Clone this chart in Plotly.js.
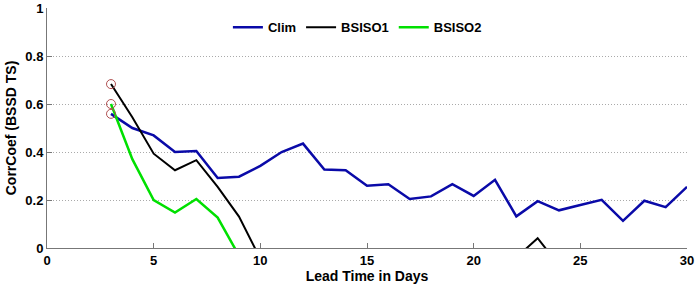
<!DOCTYPE html>
<html>
<head>
<meta charset="utf-8">
<script src="https://cdn.plot.ly/plotly-3.0.1.min.js"></script>
<style>html,body{margin:0;padding:0;background:#fff;}#chart{width:699px;height:289px;}</style>
</head>
<body>
<div id="chart"></div>
<script>
const leadDays = [3,4,5,6,7,8,9,10,11,12,13,14,15,16,17,18,19,20,21,22,23,24,25,26,27,28,29,30];
const clim   = [0.559,0.50,0.469,0.40,0.404,0.292,0.297,0.342,0.40,0.435,0.327,0.324,0.259,0.266,0.204,0.215,0.266,0.217,0.284,0.132,0.195,0.157,0.179,0.201,0.113,0.197,0.170,0.255];
const bsiso1 = [0.683,0.545,0.393,0.324,0.366,0.255,0.131,-0.045,-0.12,-0.18,-0.2,-0.22,-0.2,-0.18,-0.2,-0.17,-0.15,-0.16,-0.12,-0.041,0.041,-0.073,-0.12,-0.15,-0.18,-0.2,-0.2,-0.22];
const bsiso2 = [0.60,0.37,0.20,0.148,0.204,0.127,-0.032,-0.15,-0.2,-0.22,-0.25,-0.24,-0.26,-0.25,-0.27,-0.26,-0.28,-0.27,-0.3,-0.28,-0.29,-0.3,-0.31,-0.3,-0.32,-0.31,-0.33,-0.32];
const seriesNames = ['Clim','BSISO1','BSISO2'];
const xTickVals = [0,5,10,15,20,25,30];
const yTickVals = [0,0.2,0.4,0.6,0.8,1];
const yTickText = ['0','0.2','0.4','0.6','0.8','1'];

const colors = ['#0a0aa8','#000000','#00e000'];
const widths = [2.5,2,2.5];
const all = [clim,bsiso1,bsiso2];
const traces = [];
all.forEach((s,i)=>{
  traces.push({x:leadDays,y:s,type:'scatter',mode:'lines',name:seriesNames[i],
    line:{color:colors[i],width:widths[i]}});
});
all.forEach((s,i)=>{
  traces.push({x:[leadDays[0]],y:[s[0]],type:'scatter',mode:'markers',showlegend:false,
    marker:{symbol:'circle-open',size:9,color:'#b05050',line:{width:1,color:'#b05050'}}});
});

const fam = 'Liberation Sans, Arial, sans-serif';
const layout = {
  width:699,height:289,
  margin:{l:47,r:12,t:8,b:41},
  paper_bgcolor:'#fff',plot_bgcolor:'#fff',
  font:{family:fam,size:13,color:'#000'},
  showlegend:true,
  legend:{orientation:'h',x:0.485,xanchor:'center',y:0.92,yanchor:'middle',
    bgcolor:'rgba(0,0,0,0)',font:{family:fam,size:13,weight:'bold',color:'#000'}},
  xaxis:{range:[0,30],tickvals:xTickVals,ticks:'inside',ticklen:5,tickcolor:'#777',
    showline:true,linecolor:'#777',linewidth:1,showgrid:false,zeroline:false,
    tickfont:{family:fam,size:13,weight:'bold',color:'#000'},
    title:{text:'Lead Time in Days',standoff:3,font:{family:fam,size:14,weight:'bold',color:'#000'}}},
  yaxis:{range:[0,1],tickvals:yTickVals,ticktext:yTickText,ticks:'inside',ticklen:5,tickcolor:'#777',
    showline:true,linecolor:'#777',linewidth:1,showgrid:true,gridcolor:'#aaa',griddash:'1px,2px',gridwidth:1,zeroline:false,
    tickfont:{family:fam,size:13,weight:'bold',color:'#000'},
    title:{text:'CorrCoef (BSSD TS)',standoff:5,font:{family:fam,size:14,weight:'bold',color:'#000'}}}
};
Plotly.newPlot('chart',traces,layout,{displayModeBar:false,staticPlot:true});
</script>
</body>
</html>
